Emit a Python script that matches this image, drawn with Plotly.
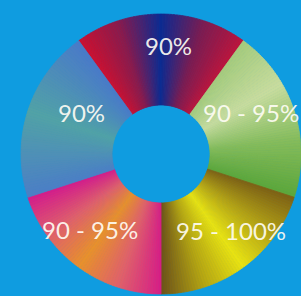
import plotly.graph_objects as go
import numpy as np

# ---- data ----
segments = ["Top", "Right", "Bottom right", "Bottom left", "Left"]
shares = [20, 20, 20, 20, 20]
rate_labels = ["90%", "90 - 95%", "95 - 100%", "90 - 95%", "90%"]

# gradient colour stops per segment (clockwise)
gradient_stops = [
    ["#cc1030", "#8a1a4c", "#0c2a90", "#7a1c52", "#bc143c"],
    ["#a5cb7c", "#c8dc9e", "#86bc5c", "#5ca63a"],
    ["#7d6014", "#b4a214", "#e8e212", "#b4a412", "#6c5218"],
    ["#d61c86", "#e0606a", "#e8902c", "#e0606a", "#d41c8a"],
    ["#4c7ec6", "#52a2a6", "#4a7ac8"],
]

# ---- style ----
W, H = 301, 296
BG = "#0f9ce0"
N_STRIPS = 61
HOLE = 0.35
DOMAIN = dict(x=[0.07, 1.0], y=[0.0, 0.9595])
ROTATION = -36
FONT = "Lato, sans-serif"
FONT_SIZE = 24
TEXT_COLOR = "rgba(255,253,245,0.92)"
LABEL_R = [0.78, 0.71, 0.74, 0.74, 0.64]      # fraction of outer radius
LABEL_DA = [3.7, -6.5, -6.6, 7.1, 9.4]        # angular nudge, degrees


def hex_to_rgb(h):
    h = h.lstrip("#")
    return np.array([int(h[i:i + 2], 16) for i in (0, 2, 4)], dtype=float)


def interp_color(stops, t):
    pos = np.linspace(0, 1, len(stops))
    rgb = [np.interp(t, pos, [hex_to_rgb(s)[c] for s in stops]) for c in range(3)]
    return "rgb(%d,%d,%d)" % tuple(int(round(v)) for v in rgb)


strip_labels, strip_values, strip_colors = [], [], []
for seg, val, stops in zip(segments, shares, gradient_stops):
    for k in range(N_STRIPS):
        t = (k + 0.5) / N_STRIPS
        strip_labels.append(f"{seg} {k}")
        strip_values.append(val / N_STRIPS)
        strip_colors.append(interp_color(stops, t))

fig = go.Figure()

# gradient fill of the ring
fig.add_trace(go.Pie(
    labels=strip_labels,
    values=strip_values,
    sort=False,
    direction="clockwise",
    rotation=ROTATION,
    hole=HOLE,
    domain=DOMAIN,
    marker=dict(colors=strip_colors, line=dict(color=strip_colors, width=0.8)),
    textinfo="none",
    hoverinfo="skip",
    showlegend=False,
))

# data segments (transparent, for hover)
fig.add_trace(go.Pie(
    labels=segments,
    values=shares,
    text=rate_labels,
    sort=False,
    direction="clockwise",
    rotation=ROTATION,
    hole=HOLE,
    domain=DOMAIN,
    marker=dict(colors=["rgba(0,0,0,0)"] * len(segments), line=dict(width=0)),
    textinfo="none",
    hovertemplate="%{text}<extra></extra>",
    showlegend=False,
))

# labels placed at each segment's mid-angle
dom_w = (DOMAIN["x"][1] - DOMAIN["x"][0]) * W
dom_h = (DOMAIN["y"][1] - DOMAIN["y"][0]) * H
r_out = min(dom_w, dom_h) / 2
cx = (DOMAIN["x"][0] + DOMAIN["x"][1]) / 2 * W
cy = (1 - (DOMAIN["y"][0] + DOMAIN["y"][1]) / 2) * H
total = float(sum(shares))
cum = np.cumsum([0] + shares[:-1])
for i, (txt, v) in enumerate(zip(rate_labels, shares)):
    ang = np.deg2rad(ROTATION + (cum[i] + v / 2) / total * 360 + LABEL_DA[i])
    px = cx + LABEL_R[i] * r_out * np.sin(ang)
    py = cy - LABEL_R[i] * r_out * np.cos(ang)
    fig.add_annotation(
        x=px / W, y=1 - py / H, xref="paper", yref="paper",
        text=txt, showarrow=False, xanchor="center", yanchor="middle",
        font=dict(family=FONT, size=FONT_SIZE, color=TEXT_COLOR),
    )

fig.update_layout(
    width=W,
    height=H,
    margin=dict(l=0, r=0, t=0, b=0),
    paper_bgcolor=BG,
    plot_bgcolor=BG,
    showlegend=False,
)

fig.write_html(
    "out.html",
    config={"displayModeBar": False},
    post_script="document.body.style.margin='0';document.body.style.background='" + BG + "';",
)
